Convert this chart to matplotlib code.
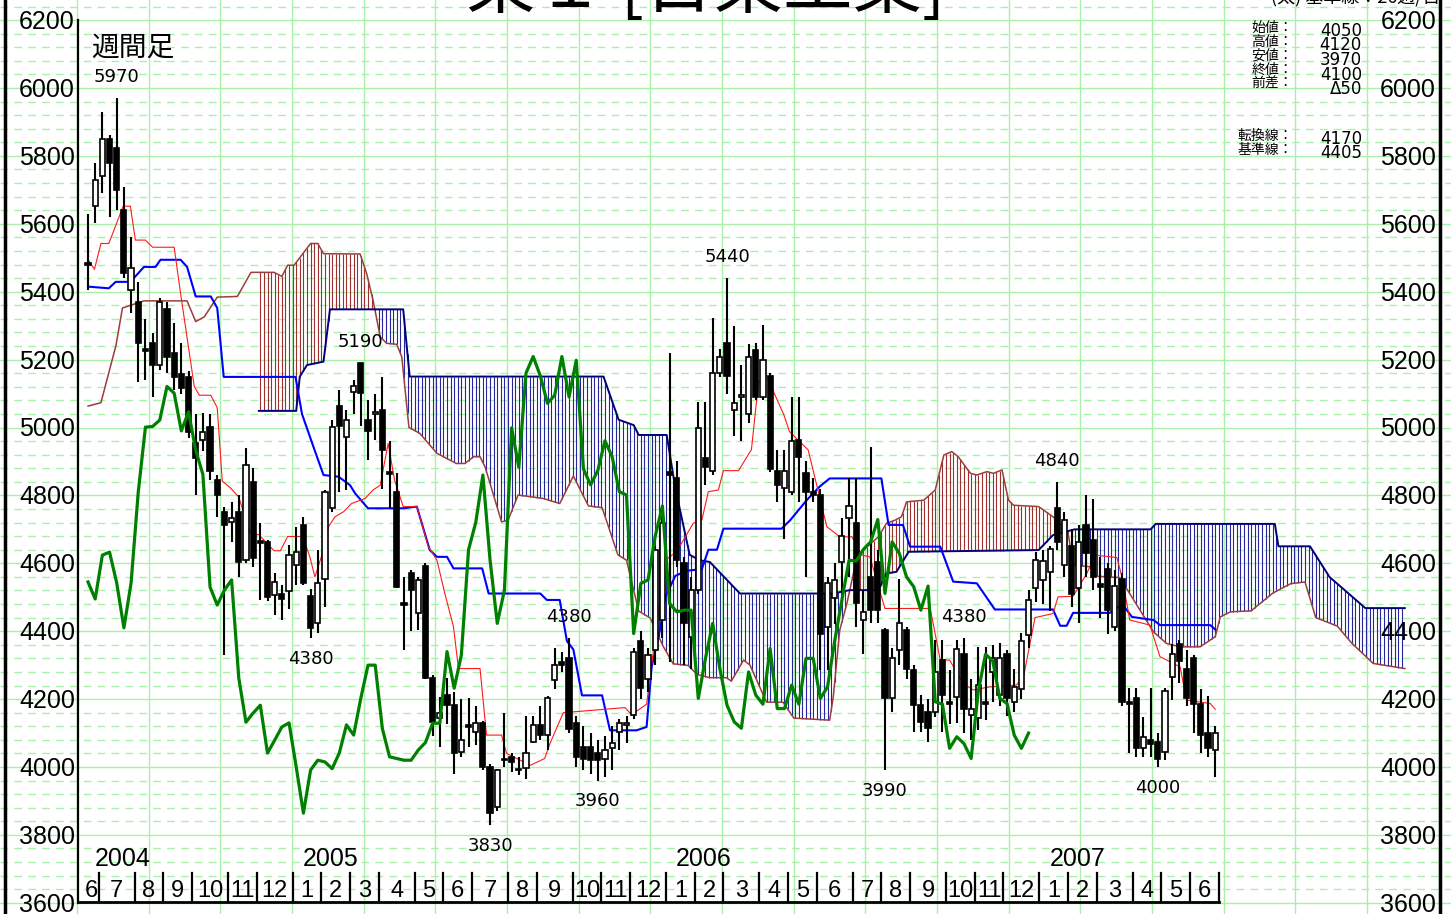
import numpy as np
import matplotlib
matplotlib.use("Agg")
import matplotlib.pyplot as plt
from matplotlib import font_manager

# weekly bars, first bar = week ending 2004-06-18
opens = [5480, 5652, 5741, 5849, 5822, 5641, 5405, 5371, 5226, 5248,
         5184, 5348, 5220, 5159, 5150, 4955, 4963, 5001, 4845, 4751,
         4722, 4751, 4609, 4839, 4660, 4663, 4506, 4510, 4518, 4594,
         4713, 4504, 4425, 4553, 4763, 5062, 4973, 5105, 5190, 5022,
         5040, 5051, 4870, 4810, 4477, 4571, 4453, 4592, 4262, 4144,
         4212, 4182, 4044, 4118, 4103, 4130, 4000, 3882, 4020, 4029,
         3990, 3997, 4074, 4124, 4094, 4256, 4310, 4320, 4130, 4060,
         4060, 4040, 4025, 4056, 4103, 4125, 4154, 4371, 4258, 4346,
         4434, 4868, 4852, 4602, 4382, 4521, 4911, 4873, 5160, 5250,
         5051, 5090, 5040, 5229, 5090, 5152, 4873, 4821, 4811, 4963,
         4865, 4811, 4801, 4413, 4497, 4605, 4732, 4720, 4433, 4560,
         4604, 4403, 4202, 4344, 4403, 4285, 4182, 4163, 4163, 4315,
         4190, 4207, 4333, 4153, 4143, 4190, 4280, 4212, 4333, 4192,
         4231, 4388, 4526, 4550, 4575, 4762, 4595, 4651, 4526, 4713,
         4670, 4540, 4582, 4413, 4555, 4190, 4202, 4055, 4081, 4074,
         4045, 4264, 4362, 4290, 4320, 4187, 4099, 4050]
highs = [5630, 5778, 5930, 5862, 5970, 5709, 5562, 5430, 5321, 5277,
         5380, 5371, 5307, 5248, 5165, 5040, 5042, 5040, 4860, 4765,
         4780, 4800, 4939, 4880, 4719, 4670, 4570, 4536, 4653, 4706,
         4737, 4524, 4639, 4815, 5022, 5110, 5052, 5140, 5190, 5081,
         5100, 5150, 4960, 4866, 4560, 4580, 4560, 4600, 4270, 4206,
         4262, 4220, 4200, 4203, 4180, 4135, 4010, 3995, 4160, 4040,
         4030, 4150, 4150, 4180, 4210, 4350, 4340, 4380, 4150, 4120,
         4100, 4080, 4090, 4120, 4140, 4150, 4350, 4400, 4350, 4650,
         4750, 5220, 4900, 4620, 4560, 5075, 5075, 5322, 5230, 5440,
         5300, 5185, 5245, 5250, 5302, 5160, 4935, 4935, 5090, 5090,
         4900, 4850, 4820, 4560, 4600, 4732, 4850, 4850, 4520, 4943,
         4640, 4410, 4350, 4555, 4413, 4300, 4212, 4200, 4374, 4374,
         4285, 4374, 4380, 4260, 4354, 4354, 4360, 4364, 4344, 4290,
         4395, 4520, 4634, 4640, 4650, 4840, 4752, 4700, 4712, 4800,
         4790, 4620, 4600, 4580, 4570, 4232, 4232, 4148, 4232, 4100,
         4232, 4362, 4374, 4344, 4330, 4230, 4210, 4120]
lows = [5405, 5601, 5690, 5621, 5641, 5440, 5336, 5135, 5140, 5091,
        5170, 5160, 5110, 5100, 4970, 4800, 4930, 4845, 4736, 4330,
        4663, 4560, 4600, 4590, 4492, 4490, 4448, 4433, 4465, 4536,
        4536, 4380, 4394, 4470, 4750, 4810, 4815, 5040, 5003, 4904,
        4963, 4820, 4763, 4527, 4344, 4400, 4403, 4260, 4090, 4059,
        4128, 3980, 4030, 4059, 4064, 3990, 3830, 3870, 4000, 3985,
        3975, 3965, 4070, 4080, 4050, 4230, 4280, 4100, 4000, 3990,
        3980, 3960, 3970, 3990, 4050, 4070, 4140, 4200, 4220, 4300,
        4380, 4310, 4590, 4300, 4290, 4510, 4831, 4860, 5150, 5100,
        4976, 4960, 5012, 5080, 5080, 4870, 4780, 4671, 4800, 4781,
        4560, 4780, 4285, 4285, 4420, 4480, 4560, 4413, 4334, 4423,
        4423, 3990, 4163, 4300, 4260, 4104, 4104, 4075, 4148, 4104,
        4128, 4130, 4100, 4080, 4110, 4138, 4190, 4180, 4150, 4163,
        4200, 4350, 4487, 4480, 4460, 4640, 4560, 4470, 4423, 4560,
        4520, 4440, 4393, 4400, 4180, 4040, 4030, 4030, 4030, 4000,
        4020, 4197, 4246, 4180, 4100, 4040, 4030, 3970]
closes = [5480, 5729, 5849, 5778, 5701, 5455, 5469, 5248, 5226, 5184,
          5371, 5208, 5150, 5115, 4988, 4910, 4987, 4872, 4801, 4713,
          4733, 4604, 4889, 4615, 4660, 4501, 4545, 4495, 4624, 4633,
          4542, 4410, 4542, 4810, 5001, 5003, 5022, 5121, 5101, 4990,
          5046, 4933, 4862, 4530, 4477, 4521, 4551, 4262, 4132, 4159,
          4182, 4041, 4079, 4118, 4130, 4000, 3864, 3991, 4020, 4015,
          3995, 4041, 4124, 4094, 4203, 4300, 4300, 4113, 4030, 4025,
          4020, 4020, 4050, 4072, 4129, 4129, 4340, 4232, 4330, 4640,
          4720, 4860, 4609, 4423, 4521, 4999, 4883, 5160, 5209, 5152,
          5071, 5095, 5209, 5090, 5198, 4878, 4831, 4873, 4961, 4914,
          4811, 4801, 4393, 4541, 4551, 4680, 4769, 4482, 4457, 4462,
          4462, 4202, 4320, 4423, 4290, 4182, 4133, 4114, 4280, 4212,
          4185, 4349, 4172, 4172, 4241, 4185, 4320, 4320, 4202, 4236,
          4372, 4492, 4609, 4607, 4641, 4663, 4729, 4511, 4663, 4629,
          4560, 4531, 4462, 4533, 4192, 4185, 4055, 4089, 4069, 4025,
          4224, 4332, 4313, 4202, 4187, 4094, 4055, 4100]

# ichimoku lines as (bar index, price) vertices
tenkan_x = [0, 0.9, 1.8, 2.9, 4.9, 5.9, 6.6, 8.0, 9.0, 12.0, 12.9, 14.8, 15.5, 17.1, 18.0,
            18.7, 19.9, 21.0, 22.6, 23.8, 25.9, 26.8, 27.8, 29.9, 30.9, 31.6, 32.5, 33.5,
            34.4, 35.6, 36.7, 38.6, 39.7, 40.7, 41.8, 42.7, 43.9, 45.8, 47.4, 48.6, 49.7,
            50.9, 51.6, 54.6, 55.5, 57.6, 58.3, 60.2, 61.6, 63.6, 64.3, 66.2, 74.8, 75.7,
            77.8, 79.7, 80.4, 82.0, 84.3, 85.5, 86.4, 87.8, 88.5, 90.6, 92.4, 93.4, 94.5,
            96.9, 97.7, 100.3, 102.9, 104.7, 106.4, 107.8, 108.9, 110.1, 111.0, 117.3,
            118.7, 120.0, 121.9, 123.3, 125.6, 129.3, 130.3, 131.2, 131.9, 134.4, 135.1,
            137.2, 139.1, 140.3, 143.3, 144.0, 145.1, 147.9, 149.3, 152.1, 153.0, 156.3, 157]
tenkan_y = [5495, 5466, 5542, 5542, 5652, 5652, 5552, 5552, 5531, 5531, 5394, 5121, 5095, 5095, 5058,
            4842, 4821, 4795, 4689, 4684, 4637, 4637, 4679, 4679, 4619, 4560, 4619, 4708,
            4737, 4752, 4776, 4791, 4816, 4830, 4953, 4845, 4767, 4767, 4649, 4609, 4511,
            4413, 4290, 4290, 4094, 4094, 4040, 4020, 4005, 4025, 4067, 4160, 4175, 4154,
            4185, 4501, 4609, 4635, 4718, 4728, 4811, 4816, 4873, 4873, 4935, 5136, 5152,
            5038, 4988, 4934, 4708, 4678, 4678, 4624, 4619, 4531, 4467, 4467,
            4315, 4315, 4246, 4227, 4236, 4241, 4266, 4364, 4440, 4452, 4501,
            4503, 4570, 4624, 4617, 4560, 4433, 4418, 4325, 4295, 4197, 4187, 4170]
kijun_x = [0, 2.9, 3.85, 5.9, 7.8, 9.4, 10.1, 12.9, 13.8, 15.0, 17.1, 18.0, 18.9, 28.9,
           29.8, 31.4, 32.8, 34.9, 36.5, 37.2, 39.0, 43.9, 45.8, 47.6, 48.6, 50.0, 50.9,
           54.9, 55.8, 63.0, 63.9, 65.7, 66.7, 67.6, 68.8, 71.6, 72.7, 76.4, 77.8, 78.5,
           79.7, 80.4, 81.8, 83.4, 85.5, 86.4, 87.6, 88.5, 96.6, 97.8, 100.1, 101.9, 103.3,
           110.5, 111.5, 113.5, 114.5, 118.7, 120.5, 123.8, 126.3, 134.4, 135.4, 136.3,
           137.2, 142.3, 143.3, 144.4, 145.4, 148.4, 149.3, 156.3, 157]
kijun_y = [5415, 5410, 5429, 5429, 5473, 5473, 5494, 5494, 5473, 5386, 5386, 5352, 5149, 5149,
           5040, 4943, 4860, 4855, 4830, 4806, 4762, 4762, 4767, 4639, 4619, 4619, 4585,
           4585, 4511, 4511, 4492, 4492, 4371, 4346, 4211, 4211, 4108, 4108, 4118, 4294,
           4408, 4501, 4563, 4578, 4583, 4640, 4640, 4702, 4702, 4727, 4786, 4826, 4850,
           4850, 4713, 4713, 4649, 4649, 4546, 4541, 4464, 4464, 4416, 4416,
           4454, 4454, 4470, 4470, 4442, 4433, 4418, 4418, 4405]
span_a_x = [0, 1.8, 3.9, 4.8, 7.8, 13.8, 15.0, 16.2, 18.0, 20.8, 22.7, 25.9, 27.0, 27.8, 28.7,
            31.0, 32.0, 32.8, 37.9, 38.8, 39.7, 40.7, 41.6, 43.0, 43.7, 44.7, 46.2, 48.6,
            51.3, 52.5, 53.7, 54.6, 55.3, 57.6, 58.5, 59.9, 63.4, 65.7, 67.6, 69.7, 71.6,
            73.8, 75.0, 76.7, 78.3, 80.1, 81.5, 83.6, 84.8, 86.6, 88.9, 89.6, 91.3, 92.2,
            94.5, 96.8, 98.3, 103.3, 103.8, 104.7, 105.7, 107.1, 108.5, 110.1, 111.2, 112.4,
            113.3, 114.0, 116.4, 118.0, 119.2, 120.3, 121.2, 122.9, 123.8, 125.2, 126.1,
            127.3, 128.2, 128.9, 132.4, 134.4, 135.5, 136.5, 137.2, 139.5, 140.5, 143.7,
            148.4, 150.2, 152.1, 154.9, 157.0, 157.7, 159.1, 162, 165, 167.5, 169.5, 171,
            174, 176, 179, 183.4]
span_a_y = [5063, 5073, 5242, 5352, 5373, 5373, 5312, 5326, 5384, 5386, 5457, 5457, 5445, 5478, 5478,
            5542, 5542, 5512, 5511, 5454, 5375, 5267, 5248, 5245, 5208, 5000, 4983, 4924,
            4894, 4894, 4914, 4914, 4884, 4722, 4727, 4801, 4791, 4776, 4857, 4769, 4764,
            4625, 4609, 4459, 4439, 4356, 4304, 4299, 4273, 4263, 4263, 4253, 4315, 4300,
            4191, 4191, 4144, 4138, 4207, 4403, 4482, 4619, 4649, 4678, 4718, 4727,
            4737, 4781, 4786, 4816, 4919, 4929, 4914, 4865, 4860, 4870, 4865,
            4875, 4786, 4771, 4767, 4737, 4715, 4690, 4595, 4590, 4562, 4558,
            4398, 4364, 4354, 4354, 4384, 4442, 4457, 4460, 4512, 4540, 4545, 4440,
            4415, 4365, 4305, 4290]
span_b_x = [23.8, 29.0, 29.5, 30.5, 32.8, 33.7, 43.9, 44.8, 71.8, 73.9, 76.0, 76.7, 80.6,
            81.8, 83.8, 85.2, 86.6, 90.8, 103.7, 106.1, 110.1, 111.2, 112.6, 114.3, 132.4,
            134.4, 137.4, 148.0, 148.7, 165.3, 165.8, 170.2, 172.9, 177.9, 183.4]
span_b_y = [5049, 5049, 5150, 5184, 5194, 5348, 5348, 5150, 5150, 5023, 5007, 4978, 4978,
            4821, 4625, 4609, 4604, 4511, 4511, 4521, 4521, 4570, 4575, 4634, 4639,
            4683, 4700, 4700, 4716, 4716, 4650, 4650, 4560, 4468, 4468]

price_ticks = [3600, 3800, 4000, 4200, 4400, 4600, 4800, 5000, 5200, 5400, 5600, 5800, 6000, 6200]
high_marks = [4, 38, 67, 89, 122, 135]
low_marks = [31, 56, 71, 111, 149]

info_names = ["始値：", "高値：", "安値：", "終値：", "前差："]
info_values = ["4050", "4120", "3970", "4100", "Δ50"]
line_names = ["転換線：", "基準線："]
line_values = ["4170", "4405"]

LAG = 26
first_week = np.datetime64("2004-06-18")

# pixel <-> data helpers (chart drawn on one axes filling the figure)
X0, DX = 88.0, 7.18
Y0, PPY = 88.0, 67.9 / 200.0


def bx(px):
    return (px - X0) / DX


def pr(pix):
    return 6000 - (pix - Y0) / PPY


def pick_font(names):
    for nm in names:
        try:
            font_manager.findfont(font_manager.FontProperties(family=nm), fallback_to_default=False)
            return nm
        except Exception:
            pass
    return "DejaVu Sans"


NARROW = pick_font(["Liberation Sans Narrow", "Liberation Sans", "DejaVu Sans"])
JP = ["Noto Sans CJK JP", "DejaVu Sans"]

fig = plt.figure(figsize=(14.51, 9.14), dpi=100)
ax = fig.add_axes([0, 0, 1, 1])
ax.set_xlim(bx(0), bx(1451))
ax.set_ylim(pr(914), pr(0))
ax.axis("off")

n = len(closes)
idx = np.arange(n)
o = np.array(opens, float)
h = np.array(highs, float)
l = np.array(lows, float)
c = np.array(closes, float)

# grid
grid_c = "#aaf0aa"
for p in range(3560, 6280, 40):
    if p % 200 == 0:
        ax.axhline(p, color=grid_c, lw=1.0, zorder=0)
    else:
        ax.axhline(p, color=grid_c, lw=1.0, ls=(0, (5.5, 4.5)), zorder=0)
for k in range(-1, 20):
    ax.axvline(bx(77 + 71.67 * k), color=grid_c, lw=1.0, zorder=0)

# cloud, hatched with vertical strokes every half bar
xs = np.arange(24, 183.01, 0.5)
a_at = np.interp(xs, span_a_x, span_a_y)
b_at = np.interp(xs, span_b_x, span_b_y)
up = a_at >= b_at
ax.vlines(xs[up], b_at[up], a_at[up], color="#9a3030", lw=0.8, zorder=1)
ax.vlines(xs[~up], a_at[~up], b_at[~up], color="#26269a", lw=0.8, zorder=1)
ax.plot(span_a_x, span_a_y, color="#9c3c3c", lw=1.1, zorder=2)
ax.plot(span_b_x, span_b_y, color="#00007a", lw=1.4, zorder=2)

ax.plot(kijun_x, kijun_y, color="#0000ff", lw=1.5, zorder=3)
ax.plot(tenkan_x, tenkan_y, color="#ff1a1a", lw=0.8, zorder=3)

# candles
ax.vlines(idx, l, h, color="black", lw=1.5, zorder=4)
body_lo = np.minimum(o, c)
body_h = np.maximum(np.abs(c - o), 5)
rising = c > o
ax.bar(idx[rising], body_h[rising], bottom=body_lo[rising], width=0.72,
       color="white", edgecolor="black", linewidth=1.2, zorder=5)
ax.bar(idx[~rising], body_h[~rising], bottom=body_lo[~rising], width=0.72,
       color="black", edgecolor="black", linewidth=1.2, zorder=5)

# lagging span: close plotted 26 bars back
ax.plot(idx[:n - LAG], c[LAG:], color="#008000", lw=2.3, zorder=6)

# high / low annotations
for i in high_marks:
    ax.annotate(f"{highs[i]}", (i, highs[i]), xytext=(0, 15), textcoords="offset points",
                ha="center", va="center", fontsize=13, family="DejaVu Sans", zorder=7)
for i in low_marks:
    ax.annotate(f"{lows[i]}", (i, lows[i]), xytext=(0, -15), textcoords="offset points",
                ha="center", va="center", fontsize=13, family="DejaVu Sans", zorder=7)

# frame
ax.plot([bx(4.5), bx(4.5)], [pr(0), pr(914)], color="black", lw=2.5, zorder=8)
ax.plot([bx(1439.5), bx(1439.5)], [pr(0), pr(914)], color="black", lw=2.5, zorder=8)
ax.plot([bx(77.5), bx(77.5)], [6200, 3600], color="black", lw=1.6, zorder=8)
ax.plot([bx(77.5), n - 0.5], [3602, 3602], color="black", lw=2.0, zorder=8)

# price labels both sides
for p in price_ticks:
    base = pr(Y0 + (6000 - p) * PPY + 9)
    ax.text(bx(75), base, str(p), ha="right", va="baseline", fontsize=18, family=NARROW, zorder=8)
    ax.text(bx(1436), base, str(p), ha="right", va="baseline", fontsize=18, family=NARROW, zorder=8)

# month / year labels
dates = first_week + idx * np.timedelta64(7, "D")
months = dates.astype("datetime64[M]")
sep_top, sep_bot = pr(873), pr(901)
label_base = pr(897)
year_base = pr(866)
for m in np.unique(months):
    sel = idx[months == m]
    left = max(sel[0] - 0.5, bx(77))
    right = sel[-1] + 0.5
    ax.plot([right, right], [sep_top, sep_bot], color="black", lw=1.6, zorder=8)
    mnum = int(str(m)[5:7])
    ax.text((left + right) / 2, label_base, str(mnum), ha="center", va="baseline",
            fontsize=17, family=NARROW, zorder=8)
    if mnum == 1 or sel[0] == 0:
        ax.text(left + 1.4, year_base, str(m)[:4], ha="left", va="baseline",
                fontsize=18, family=NARROW, zorder=8)

# texts
ax.text(bx(91), pr(48), "週間足", ha="left", va="center", fontsize=20, family=JP, zorder=8)
ax.text(bx(706), pr(7), "東１ [日東工業]", ha="center", va="baseline", fontsize=50,
        family=JP, zorder=8)
ax.text(bx(1440), pr(6), "(太) 基準線：26週/日", ha="right", va="bottom", fontsize=13,
        family=JP, zorder=8)
ax.text(bx(1293), pr(21), "\n".join(info_names), ha="right", va="top", fontsize=10,
        family=JP, linespacing=0.99, zorder=8)
ax.text(bx(1362), pr(22), "\n".join(info_values), ha="right", va="top", fontsize=12,
        family="DejaVu Sans", linespacing=0.75, zorder=8)
ax.text(bx(1293), pr(129), "\n".join(line_names), ha="right", va="top", fontsize=10,
        family=JP, linespacing=0.99, zorder=8)
ax.text(bx(1362), pr(130), "\n".join(line_values), ha="right", va="top", fontsize=12,
        family="DejaVu Sans", linespacing=0.75, zorder=8)

fig.savefig("out.png", dpi=100)
